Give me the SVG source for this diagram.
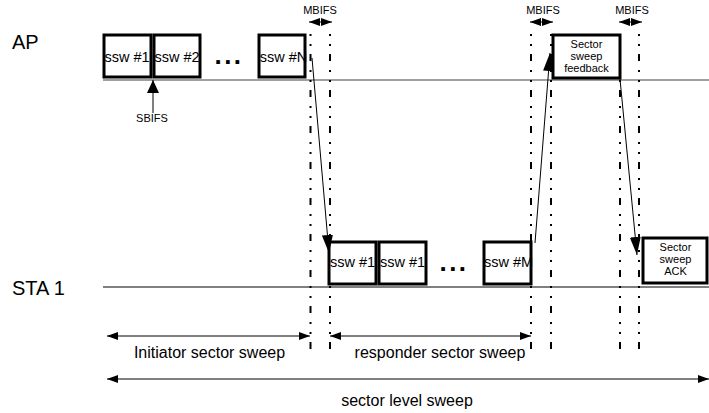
<svg xmlns="http://www.w3.org/2000/svg" width="709" height="413" viewBox="0 0 709 413">
<defs>
<marker id="big" markerUnits="userSpaceOnUse" markerWidth="18" markerHeight="11" refX="18" refY="5.5" orient="auto"><path d="M0,0 L18,5.5 L0,11 z" fill="#000"/></marker>
<marker id="sb" markerUnits="userSpaceOnUse" markerWidth="13" markerHeight="12" refX="13" refY="6" orient="auto"><path d="M0,0 L13,6 L0,12 z" fill="#000"/></marker>
<marker id="mb" markerUnits="userSpaceOnUse" markerWidth="11" markerHeight="8" refX="11" refY="4" orient="auto-start-reverse"><path d="M0,0 L11,4 L0,8 z" fill="#000"/></marker>
<marker id="sm" markerUnits="userSpaceOnUse" markerWidth="11" markerHeight="8" refX="11" refY="4" orient="auto-start-reverse"><path d="M0,0 L11,4 L0,8 z" fill="#000"/></marker>
</defs>
<style>
text{font-family:"Liberation Sans",Arial,sans-serif;fill:#000}
.box{fill:#fff;stroke:#000;stroke-width:3}
.lbl{font-size:14.5px;text-anchor:middle}
.sm{font-size:11px;text-anchor:middle}
.big{font-size:20px}
.bot{font-size:16px;text-anchor:middle}
.dots{font-size:26px;font-weight:bold;letter-spacing:2.5px;text-anchor:middle}
.vl{stroke:#000;stroke-width:2;stroke-dasharray:2 8 2 8 7 9;fill:none}
.arr{stroke:#000;stroke-width:1;fill:none}
</style>
<rect width="709" height="413" fill="#fff"/>
<g id="timeline-labels">
<text class="big" x="12" y="49">AP</text>
<text class="big" x="12" y="295">STA 1</text>
</g>
<g id="baselines">
<line x1="103" y1="80" x2="709" y2="80" stroke="#808080" stroke-width="1.5"/>
<line x1="103" y1="287" x2="709" y2="287" stroke="#000" stroke-width="1"/>
</g>
<g id="guides">
<line class="vl" x1="310.5" y1="34" x2="310.5" y2="358"/>
<line class="vl" x1="330" y1="34" x2="330" y2="358"/>
<line class="vl" x1="531" y1="34" x2="531" y2="358"/>
<line class="vl" x1="551" y1="34" x2="551" y2="358"/>
<line class="vl" x1="620" y1="34" x2="620" y2="358"/>
<line class="vl" x1="639" y1="34" x2="639" y2="358"/>
</g>
<g id="ap-ssw1"><rect class="box" x="104" y="35" width="47" height="42"/><text class="lbl" x="127" y="62">ssw #1</text></g>
<g id="ap-ssw2"><rect class="box" x="154" y="35" width="46" height="42"/><text class="lbl" x="177" y="62">ssw #2</text></g>
<g id="ap-dots"><text class="dots" x="229" y="64">...</text></g>
<g id="ap-sswN"><rect class="box" x="259" y="35" width="46" height="42"/><text class="lbl" x="283.5" y="62">ssw #N</text></g>
<g id="ap-feedback"><rect class="box" x="553" y="35" width="67" height="43"/>
<text class="sm" x="586.5" y="48">Sector</text><text class="sm" x="586.5" y="60">sweep</text><text class="sm" x="586.5" y="72">feedback</text></g>
<g id="sta-ssw1a"><rect class="box" x="329" y="242" width="47" height="42"/><text class="lbl" x="352.5" y="267">ssw #1</text></g>
<g id="sta-ssw1b"><rect class="box" x="379" y="242" width="47" height="42"/><text class="lbl" x="402.5" y="267">ssw #1</text></g>
<g id="sta-dots"><text class="dots" x="454" y="271">...</text></g>
<g id="sta-sswM"><rect class="box" x="484" y="242" width="47" height="42"/><text class="lbl" x="508.5" y="267">ssw #M</text></g>
<g id="sta-ack"><rect class="box" x="643" y="238" width="64" height="45"/>
<text class="sm" x="675.5" y="251">Sector</text><text class="sm" x="675.5" y="263">sweep</text><text class="sm" x="675.5" y="275">ACK</text></g>
<g id="timing-labels">
<text class="sm" x="320" y="14">MBIFS</text>
<text class="sm" x="543" y="14">MBIFS</text>
<text class="sm" x="632" y="14">MBIFS</text>
<text class="sm" x="152" y="122">SBIFS</text>
<text class="bot" x="209.5" y="358">Initiator sector sweep</text>
<text class="bot" x="440" y="358">responder sector sweep</text>
<text class="bot" x="407" y="406">sector level sweep</text>
</g>
<g id="connectors">
<line class="arr" x1="312" y1="58" x2="329" y2="253" marker-end="url(#big)"/>
<line class="arr" x1="535" y1="243" x2="550" y2="53" marker-end="url(#big)"/>
<line class="arr" x1="620" y1="79" x2="637" y2="255" marker-end="url(#big)"/>
<line class="arr" x1="153" y1="113" x2="153" y2="80" stroke-width="1.5" marker-end="url(#sb)"/>
<line class="arr" x1="309" y1="22" x2="332" y2="22" marker-start="url(#mb)" marker-end="url(#mb)"/>
<line class="arr" x1="530" y1="22" x2="553" y2="22" marker-start="url(#mb)" marker-end="url(#mb)"/>
<line class="arr" x1="619" y1="22" x2="642" y2="22" marker-start="url(#mb)" marker-end="url(#mb)"/>
<line class="arr" x1="107" y1="336" x2="310" y2="336" marker-start="url(#sm)" marker-end="url(#sm)"/>
<line class="arr" x1="330" y1="336" x2="531" y2="336" marker-start="url(#sm)" marker-end="url(#sm)"/>
<line class="arr" x1="107" y1="379" x2="709" y2="379" marker-start="url(#sm)" marker-end="url(#sm)"/>
</g>
</svg>
